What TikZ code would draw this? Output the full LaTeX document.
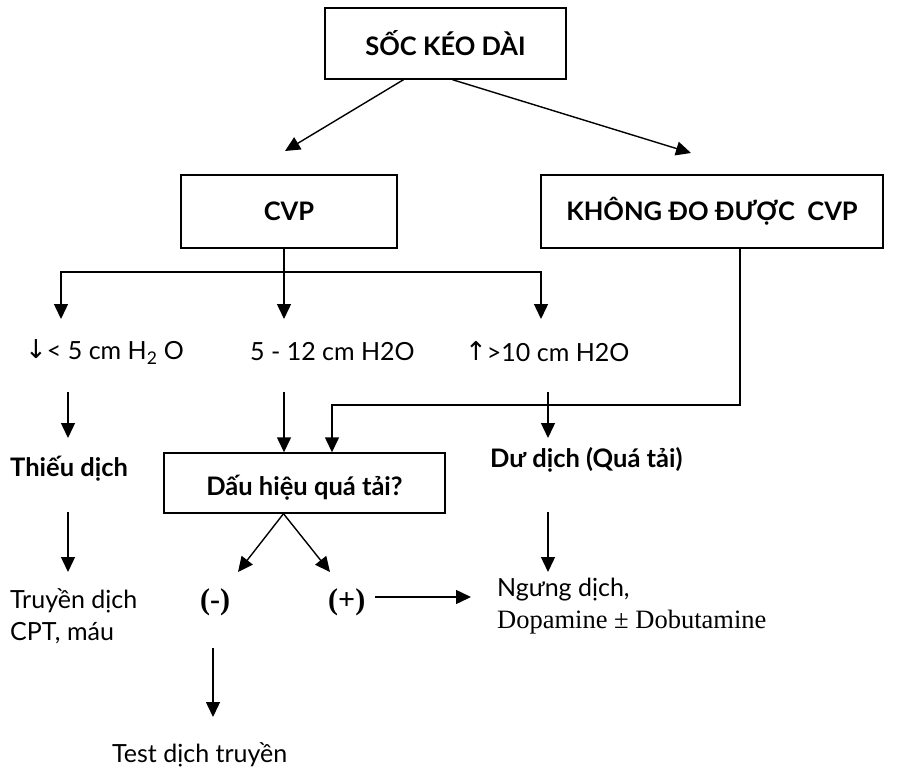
\documentclass[tikz,border=0pt]{standalone}
\usepackage{fontspec}
\setmainfont{Lato}
\newfontfamily\seriffont{Liberation Serif}
\newfontfamily\symfont{DejaVu Sans}
\usetikzlibrary{arrows.meta}
\usetikzlibrary{calc}

\begin{document}
\begin{tikzpicture}[x=1pt,y=-1pt,
    box/.style={draw,line width=1.4pt,font=\fontsize{25.5}{30}\selectfont\bfseries},
    txt/.style={anchor=west,inner sep=0pt,align=left,font=\fontsize{25}{32}\selectfont},
    btxt/.style={txt,font=\fontsize{25.5}{30}\selectfont\bfseries},
    sign/.style={txt,font=\fontsize{30}{34}\selectfont\seriffont\bfseries},
    arr/.style={line width=1.4pt,-{Triangle[width=14pt,length=15pt]}},
    ln/.style={line width=1.4pt}]

    \useasboundingbox (0,0) rectangle (904,773);

    \node[box,minimum width=241pt,minimum height=71pt] (shock) at (445.5,43.5) {SỐC KÉO DÀI};
    \node[box,minimum width=216pt,minimum height=73pt] (cvp) at (289,211.5) {CVP};
    \node[box,minimum width=342pt,minimum height=73pt] (nocvp) at (712,211.5) {KHÔNG ĐO ĐƯỢC\ \ CVP};
    \node[box,minimum width=281pt,minimum height=60pt,text depth=0pt,yshift=0pt] (signs) at (304.5,483) {\raisebox{-5pt}{Dấu hiệu quá tải?}};

    \node[txt] (low) at (25,352) {{\symfont\fontsize{26}{30}\selectfont\raisebox{1pt}{↓}}< 5 cm H\textsubscript{2} O};
    \node[txt] (mid) at (250,352) {5 - 12 cm H2O};
    \node[txt] (high) at (465,352) {{\symfont\fontsize{26}{30}\selectfont\raisebox{1pt}{↑}}>10 cm H2O};

    \node[btxt] (lack) at (10,469) {Thiếu dịch};
    \node[btxt] (excess) at (490,460) {Dư dịch (Quá tải)};

    \node[txt] (infuse) at (10,616) {Truyền dịch\\CPT, máu};
    \node[sign] (neg) at (200,602) {(-)};
    \node[sign] (pos) at (328,602) {(+)};
    \node[txt] (stop) at (497,606) {Ngưng dịch,\\{\seriffont\fontsize{26.5}{33}\selectfont Dopamine ± Dobutamine}};
    \node[txt] (test) at (112,755) {Test dịch truyền};

    \coordinate (tocvp) at (285,151);
    \coordinate (tonocvp) at (691,153);
    \draw[arr] ($(shock.south)+(-42,0)$) -- (tocvp);
    \draw[arr] ($(shock.south)+(7,0)$) -- (tonocvp);

    \draw[ln] ($(cvp.south)+(-5,0)$) coordinate (cvpfoot) -- (cvpfoot |- 0,272) coordinate (split);
    \coordinate (lowtop) at (61,319);
    \coordinate (midtop) at (284,319);
    \coordinate (hightop) at (541,319);
    \draw[arr] (split) -| (lowtop);
    \draw[arr] (split) -| (hightop);
    \draw[arr] (split) -- (midtop);

    \draw[arr] (68,392) -- (68,438);
    \draw[arr] (284,392) -- (284,0 |- signs.north);
    \draw[arr] (nocvp.south -| 740,0) |- (332,405) -- (332,0 |- signs.north);
    \draw[arr] (548,392) -- (548,438);

    \draw[arr] (68,512) -- (68,572);
    \draw[arr] (548,512) -- (548,572);
    \draw[arr] ($(signs.south)+(-21,0)$) -- (238,572);
    \draw[arr] ($(signs.south)+(-21,0)$) -- (330,572);
    \draw[arr] (pos.east) ++(10,-5) -- (471,597);
    \draw[arr] (213,648) -- (213,717);
\end{tikzpicture}
\end{document}
